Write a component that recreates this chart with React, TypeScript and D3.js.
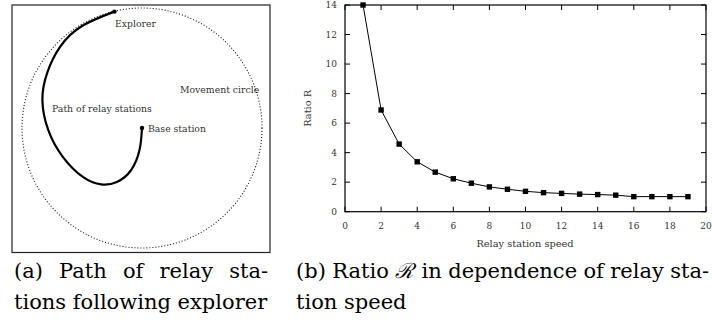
import * as d3 from "d3";
import React, { useLayoutEffect, useRef, useState } from "react";

// relay station speed vs ratio R (right panel)
const speeds = [1, 2, 3, 4, 5, 6, 7, 8, 9, 10, 11, 12, 13, 14, 15, 16, 17, 18, 19];
const ratios = [14, 6.89, 4.58, 3.38, 2.68, 2.23, 1.93, 1.68, 1.52, 1.38, 1.29, 1.24, 1.19, 1.16, 1.12, 1.02, 1.02, 1.02, 1.02];
const xTicks = [0, 2, 4, 6, 8, 10, 12, 14, 16, 18, 20];
const yTicks = [0, 2, 4, 6, 8, 10, 12, 14];

// relay path (left panel), unit circle coords, base station at origin
const pathX = [0, -0.02, -0.09, -0.21, -0.34, -0.49, -0.66, -0.78, -0.83, -0.79, -0.68, -0.5, -0.23];
const pathY = [0, -0.18, -0.35, -0.45, -0.47, -0.41, -0.24, -0.02, 0.23, 0.46, 0.68, 0.85, 0.97];

const serif = "DejaVu Serif";

// stretches word gaps so the line fills `width` (like a justified LaTeX caption)
function Justified({ x, y, width, children }: { x: number; y: number; width: number; children: React.ReactNode }) {
    const ref = useRef<SVGTextElement>(null);
    const [ws, setWs] = useState(0);
    useLayoutEffect(() => {
        const el = ref.current;
        if (!el) return;
        el.style.wordSpacing = "0px";
        const nat = el.getComputedTextLength();
        const gaps = (el.textContent?.trim().match(/ +/g) || []).length;
        setWs(gaps ? (width - nat) / gaps : 0);
    }, [width]);
    return <text ref={ref} x={x} y={y} style={{ wordSpacing: `${ws}px` }}>{children}</text>;
}

export default function App() {
    const W = 712, H = 320;

    // left panel
    const sx = d3.scaleLinear().domain([-1, 1]).range([22, 262]);
    const sy = d3.scaleLinear().domain([-1, 1]).range([248, 8]);
    const pts = pathX.map((x, i) => [x, pathY[i]] as [number, number]);
    const relayLine = d3.line<[number, number]>().x(d => sx(d[0])).y(d => sy(d[1])).curve(d3.curveNatural);
    const base = pts[0];
    const explorer = pts[pts.length - 1];

    // right panel
    const m = { left: 345, right: 706, top: 5, bottom: 211.7 };
    const x = d3.scaleLinear().domain([0, 20]).range([m.left, m.right]);
    const y = d3.scaleLinear().domain([0, 14]).range([m.bottom, m.top]);
    const data = speeds.map((s, i) => ({ s, r: ratios[i] }));
    const ratioLine = d3.line<typeof data[number]>().x(d => x(d.s)).y(d => y(d.r));
    const tk = 5;

    return (
        <svg width={W} height={H} viewBox={`0 0 ${W} ${H}`}
            style={{ position: "absolute", left: 0, top: 0, background: "#fff" }} fontFamily={serif}>
            {/* (a) */}
            <rect x={12} y={5} width={258} height={247.5} fill="none" stroke="#222" strokeWidth={1.2} />
            <circle cx={sx(0)} cy={sy(0)} r={sx(1) - sx(0)} fill="none" stroke="#111" strokeWidth={1.1} strokeDasharray="1 2" />
            <path d={relayLine(pts) ?? undefined} fill="none" stroke="#000" strokeWidth={2.2} />
            <circle cx={sx(base[0])} cy={sy(base[1])} r={2.2} fill="#000" />
            <circle cx={sx(explorer[0])} cy={sy(explorer[1])} r={2.2} fill="#000" />
            <g fontSize={9.3} fill="#333">
                <text x={115} y={27}>Explorer</text>
                <text x={180} y={93}>Movement circle</text>
                <text x={52} y={112}>Path of relay stations</text>
                <text x={148} y={132}>Base station</text>
            </g>

            {/* (b) */}
            <g stroke="#000" strokeWidth={1}>
                {xTicks.map(t => (
                    <g key={t}>
                        <line x1={x(t)} x2={x(t)} y1={m.bottom} y2={m.bottom - tk} />
                        <line x1={x(t)} x2={x(t)} y1={m.top} y2={m.top + tk} />
                    </g>
                ))}
                {yTicks.map(t => (
                    <g key={t}>
                        <line x1={m.left} x2={m.left + tk} y1={y(t)} y2={y(t)} />
                        <line x1={m.right} x2={m.right - tk} y1={y(t)} y2={y(t)} />
                    </g>
                ))}
            </g>
            <rect x={m.left} y={m.top} width={m.right - m.left} height={m.bottom - m.top} fill="none" stroke="#000" strokeWidth={1.2} />
            <g fontSize={9} fill="#333">
                {xTicks.map(t => (
                    <text key={t} x={x(t)} y={229} textAnchor="middle">{t}</text>
                ))}
                {yTicks.map(t => (
                    <text key={t} x={337} y={y(t)} textAnchor="end" dominantBaseline="central">{t}</text>
                ))}
            </g>
            <text x={(m.left + m.right) / 2 - 0.5} y={247} textAnchor="middle" fontSize={9.8} fill="#333">Relay station speed</text>
            <text transform={`translate(311,${(m.top + m.bottom) / 2}) rotate(-90)`} textAnchor="middle" fontSize={9.8} fill="#333">Ratio R</text>
            <path d={ratioLine(data) ?? undefined} fill="none" stroke="#000" strokeWidth={1} />
            {data.map(d => (
                <rect key={d.s} x={x(d.s) - 2.7} y={y(d.r) - 2.7} width={5.4} height={5.4} fill="#000" />
            ))}

            {/* captions */}
            <g fontSize={21} fill="#000">
                <Justified x={14} y={278} width={254}>(a) Path of relay sta-</Justified>
                <text x={14} y={309}>tions following explorer</text>
                <Justified x={296} y={278} width={411}>
                    (b) Ratio <tspan fontStyle="italic">ℛ</tspan><tspan dx={2}> in</tspan> dependence of relay sta-
                </Justified>
                <text x={296} y={309}>tion speed</text>
            </g>
        </svg>
    );
}
